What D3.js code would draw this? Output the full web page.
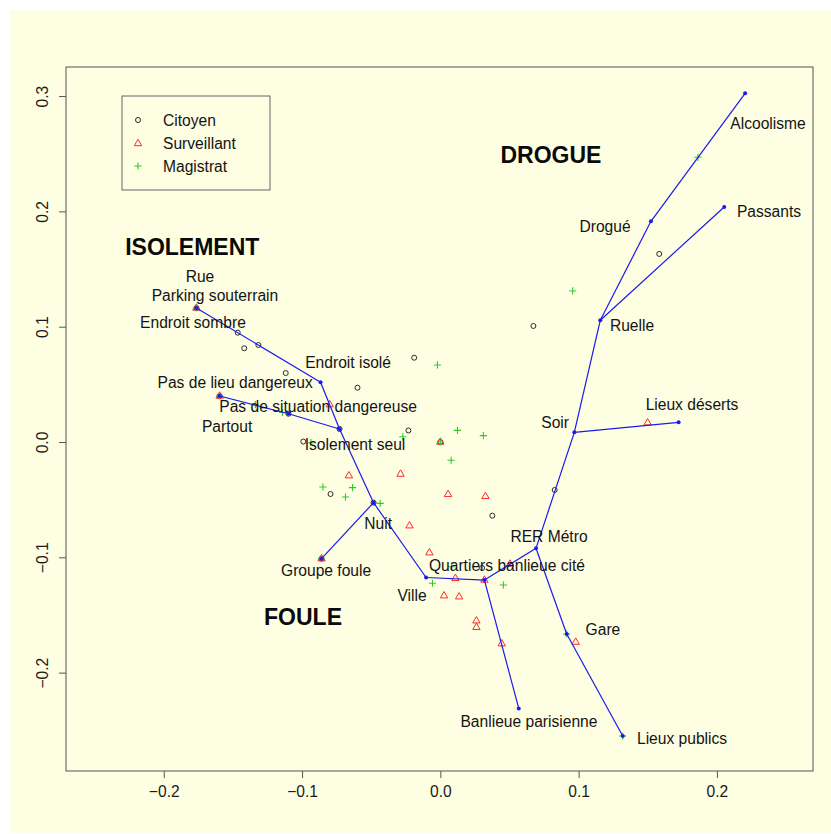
<!DOCTYPE html>
<html>
<head>
<meta charset="utf-8">
<script src="https://cdn.jsdelivr.net/npm/d3@7"></script>
<style>
  html, body { margin: 0; padding: 0; background: #ffffff; }
  svg { display: block; }
</style>
</head>
<body>
<svg id="chart" width="831" height="834"></svg>
<script>
// ---- Category nodes of the tree (coordinates on the two factorial axes) ----
const nodeIds = ["rue", "isole", "isolementSeul", "partout", "situation", "nuit",
  "groupeFoule", "ville", "quartiers", "rer", "banlieue", "soir", "deserts",
  "gare", "publics", "ruelle", "drogue", "alcoolisme", "passants"];
const nodeX = [-0.1764, -0.0866, -0.0729, -0.1596, -0.1098, -0.0483,
  -0.0859, -0.0103, 0.0319, 0.0692, 0.0567, 0.0969, 0.1723,
  0.0914, 0.1319, 0.1157, 0.1523, 0.2204, 0.2053];
const nodeY = [0.1162, 0.0518, 0.0113, 0.0399, 0.0245, -0.0526,
  -0.1012, -0.1175, -0.1197, -0.0922, -0.2310, 0.0084, 0.0171,
  -0.1665, -0.2550, 0.1056, 0.1914, 0.3024, 0.2038];

// Branches of the tree
const edges = [
  ["rue", "isole"], ["isole", "isolementSeul"], ["partout", "situation"],
  ["situation", "isolementSeul"], ["isolementSeul", "nuit"], ["nuit", "groupeFoule"],
  ["nuit", "ville"], ["ville", "quartiers"], ["quartiers", "rer"],
  ["quartiers", "banlieue"], ["rer", "soir"], ["soir", "deserts"],
  ["rer", "gare"], ["gare", "publics"], ["soir", "ruelle"],
  ["ruelle", "drogue"], ["drogue", "alcoolisme"], ["ruelle", "passants"]
];

// Category labels and where they sit on the plane
const labelText = ["Alcoolisme", "Passants", "Drogué", "Ruelle", "Lieux déserts", "Soir",
  "RER Métro", "Quartiers banlieue cité", "Ville", "Gare", "Banlieue parisienne",
  "Lieux publics", "Groupe foule", "Nuit", "Isolement seul", "Partout",
  "Pas de situation dangereuse", "Pas de lieu dangereux", "Endroit isolé",
  "Endroit sombre", "Parking souterrain", "Rue"];
const labelX = [0.2370, 0.2377, 0.1191, 0.1386, 0.1820, 0.0830,
  0.0786, 0.0482, -0.0205, 0.1176, 0.0641,
  0.1748, -0.0826, -0.0450, -0.0617, -0.1542,
  -0.0884, -0.1484, -0.0667,
  -0.1789, -0.1630, -0.1738];
const labelY = [0.2758, 0.1995, 0.1867, 0.1006, 0.0321, 0.0167,
  -0.0821, -0.1067, -0.1333, -0.1624, -0.2426,
  -0.2570, -0.1110, -0.0703, -0.0024, 0.0133,
  0.0306, 0.0518, 0.0691,
  0.1038, 0.1272, 0.1431];

// Cluster titles
const groupText = ["DROGUE", "ISOLEMENT", "FOULE"];
const groupX = [0.0800, -0.1794, -0.0993];
const groupY = [0.2489, 0.1691, -0.1518];

// Individuals, by respondent type
const citoyenX = [-0.1465, -0.1418, -0.1316, -0.1118, -0.0189, -0.0599, -0.0231, -0.0991,
  -0.0794, 0.0376, 0.0302, 0.0827, 0.0673, 0.1583, -0.1764, -0.1596, -0.0859, 0.0000,
  -0.0729, -0.1098, -0.0483];
const citoyenY = [0.0948, 0.0813, 0.0841, 0.0598, 0.0731, 0.0471, 0.0100, 0.0004,
  -0.0451, -0.0639, -0.1093, -0.0416, 0.1006, 0.1631, 0.1162, 0.0399, -0.1012, 0.0000,
  0.0113, 0.0245, -0.0526];

const surveillantX = [-0.0800, -0.0661, -0.0288, 0.0056, 0.0326, -0.0223, -0.0079, 0.0504,
  0.0109, 0.0319, 0.0027, 0.0136, 0.0261, 0.0261, 0.0444, 0.0979, 0.1499,
  -0.1764, -0.1596, -0.0859, 0.0000];
const surveillantY = [0.0324, -0.0292, -0.0278, -0.0454, -0.0471, -0.0726, -0.0960, -0.1058,
  -0.1182, -0.1197, -0.1333, -0.1342, -0.1550, -0.1607, -0.1749, -0.1735, 0.0167,
  0.1162, 0.0399, -0.1012, 0.0000];

const magistratX = [-0.0021, -0.1141, -0.1338, -0.0271, -0.0936, 0.0124, 0.0311, 0.0078,
  -0.0849, -0.0635, -0.0686, -0.0435, 0.0082, -0.0057, 0.0456, 0.0914, 0.1319, 0.1863,
  0.0957, -0.1764, -0.1596, -0.0859, 0.0000];
const magistratY = [0.0668, 0.0256, 0.0325, 0.0046, -0.0006, 0.0101, 0.0055, -0.0158,
  -0.0390, -0.0396, -0.0477, -0.0532, -0.1082, -0.1225, -0.1240, -0.1665, -0.2550, 0.2469,
  0.1310, 0.1162, 0.0399, -0.1012, 0.0000];

// Axis ticks
const xTicks = [-0.2, -0.1, 0.0, 0.1, 0.2];
const yTicks = [-0.2, -0.1, 0.0, 0.1, 0.2, 0.3];

// Legend entries
const legendNames = ["Citoyen", "Surveillant", "Magistrat"];

// ---------------------------------------------------------------------------
const FONT = "'Liberation Sans', Arial, Helvetica, sans-serif";
const svg = d3.select("#chart");

const plot = { left: 66, right: 813, top: 67, bottom: 771 };
const x = d3.scaleLinear().domain([-0.2707, 0.2695]).range([plot.left, plot.right]);
const y = d3.scaleLinear().domain([-0.2853, 0.3252]).range([plot.bottom, plot.top]);

// page background
svg.append("rect").attr("x", 10).attr("y", 10).attr("width", 821).attr("height", 823)
  .attr("fill", "#fefee2");

// marker shapes
const triPath = "M0,-4.2L3.7,2.2L-3.7,2.2Z";
const plusPath = "M-3.6,0H3.6M0,-3.6V3.6";
const colCit = "#2a2a2a", colSur = "#ff2a2a", colMag = "#2ecb2e", colTree = "#1a1aee";

function drawCircles(g, xs, ys) {
  g.selectAll(null).data(d3.zip(xs, ys)).join("circle")
    .attr("cx", d => x(d[0])).attr("cy", d => y(d[1])).attr("r", 2.5)
    .attr("fill", "none").attr("stroke", colCit).attr("stroke-width", 1);
}
function drawTriangles(g, xs, ys) {
  g.selectAll(null).data(d3.zip(xs, ys)).join("path")
    .attr("transform", d => `translate(${x(d[0])},${y(d[1])})`)
    .attr("d", triPath).attr("fill", "none").attr("stroke", colSur).attr("stroke-width", 1);
}
function drawPlus(g, xs, ys) {
  g.selectAll(null).data(d3.zip(xs, ys)).join("path")
    .attr("transform", d => `translate(${x(d[0])},${y(d[1])})`)
    .attr("d", plusPath).attr("fill", "none").attr("stroke", colMag).attr("stroke-width", 1.1);
}

const pts = svg.append("g");
drawCircles(pts, citoyenX, citoyenY);
drawTriangles(pts, surveillantX, surveillantY);
drawPlus(pts, magistratX, magistratY);

// tree branches
const nodeIndex = new Map(nodeIds.map((id, i) => [id, i]));
svg.append("g").selectAll("line").data(edges).join("line")
  .attr("x1", d => x(nodeX[nodeIndex.get(d[0])]))
  .attr("y1", d => y(nodeY[nodeIndex.get(d[0])]))
  .attr("x2", d => x(nodeX[nodeIndex.get(d[1])]))
  .attr("y2", d => y(nodeY[nodeIndex.get(d[1])]))
  .attr("stroke", colTree).attr("stroke-width", 1.2);

svg.append("g").selectAll("circle").data(d3.zip(nodeX, nodeY)).join("circle")
  .attr("cx", d => x(d[0])).attr("cy", d => y(d[1])).attr("r", 2)
  .attr("fill", colTree);

// category labels
svg.append("g").selectAll("text").data(d3.zip(labelText, labelX, labelY)).join("text")
  .attr("x", d => x(d[1])).attr("y", d => y(d[2]))
  .attr("text-anchor", "middle").attr("dominant-baseline", "central")
  .attr("font-family", FONT).attr("font-size", 15.6).attr("fill", "#141414")
  .text(d => d[0]);

// cluster titles
svg.append("g").selectAll("text").data(d3.zip(groupText, groupX, groupY)).join("text")
  .attr("x", d => x(d[1])).attr("y", d => y(d[2]))
  .attr("text-anchor", "middle").attr("dominant-baseline", "central")
  .attr("font-family", FONT).attr("font-size", 23).attr("font-weight", "bold")
  .attr("fill", "#0a0a0a")
  .text(d => d[0]);

// frame
svg.append("rect")
  .attr("x", plot.left).attr("y", plot.top)
  .attr("width", plot.right - plot.left).attr("height", plot.bottom - plot.top)
  .attr("fill", "none").attr("stroke", "#555").attr("stroke-width", 1);

// axes
const axisCol = "#555";
const fmt = d3.format(".1f");
const xAxis = svg.append("g").attr("transform", `translate(0,${plot.bottom})`)
  .call(d3.axisBottom(x).tickValues(xTicks).tickSize(7).tickPadding(8));
xAxis.select(".domain").remove();
xAxis.selectAll(".tick line").attr("stroke", axisCol);
xAxis.selectAll(".tick text").attr("font-family", FONT).attr("font-size", 15.6)
  .attr("fill", "#1a1a1a").attr("dy", null).attr("y", 20).attr("dominant-baseline", "central")
  .text(d => (d < 0 ? "\u2212" : "") + fmt(Math.abs(d)));

const yAxis = svg.append("g").attr("transform", `translate(${plot.left},0)`)
  .call(d3.axisLeft(y).tickValues(yTicks).tickSize(7));
yAxis.select(".domain").remove();
yAxis.selectAll(".tick line").attr("stroke", axisCol);
yAxis.selectAll(".tick text").attr("font-family", FONT).attr("font-size", 15.6)
  .attr("fill", "#1a1a1a").attr("x", null).attr("dy", null)
  .attr("transform", "translate(-24,0) rotate(-90)")
  .attr("text-anchor", "middle").attr("dominant-baseline", "central")
  .text(d => (d < 0 ? "\u2212" : "") + fmt(Math.abs(d)));

// legend
const leg = svg.append("g");
leg.append("rect").attr("x", 122).attr("y", 96).attr("width", 148).attr("height", 94)
  .attr("fill", "none").attr("stroke", "#666").attr("stroke-width", 1);
const legRows = [120, 143, 166];
leg.append("circle").attr("cx", 138).attr("cy", legRows[0]).attr("r", 2.5)
  .attr("fill", "none").attr("stroke", colCit);
leg.append("path").attr("transform", `translate(138,${legRows[1] + 0.5})`).attr("d", triPath)
  .attr("fill", "none").attr("stroke", colSur);
leg.append("path").attr("transform", `translate(138,${legRows[2]})`).attr("d", plusPath)
  .attr("fill", "none").attr("stroke", colMag).attr("stroke-width", 1.1);
leg.selectAll("text").data(legendNames).join("text")
  .attr("x", 163).attr("y", (d, i) => legRows[i])
  .attr("dominant-baseline", "central")
  .attr("font-family", FONT).attr("font-size", 15.6).attr("fill", "#141414")
  .text(d => d);
</script>
</body>
</html>
